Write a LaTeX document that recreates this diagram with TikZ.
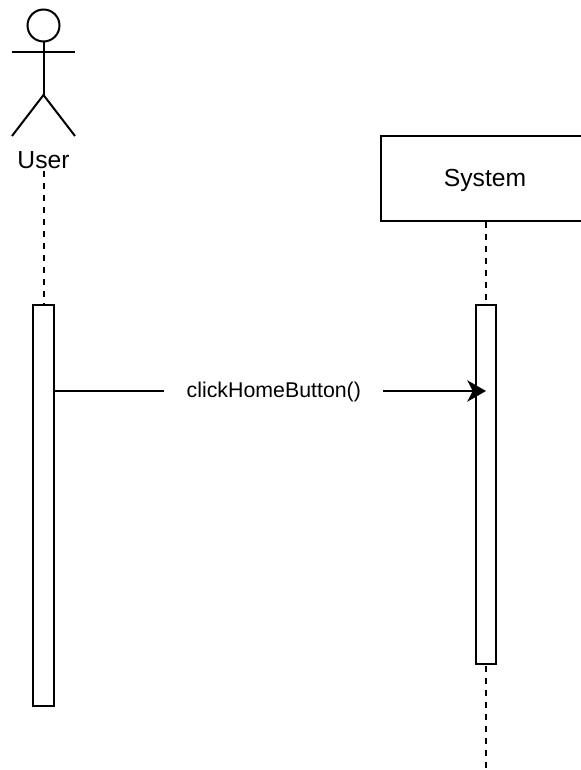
\documentclass[tikz,border=0pt]{standalone}
\usepackage{fontspec}
\setmainfont{Liberation Sans}
\usetikzlibrary{arrows.meta}
\newlength{\unit}
\setlength{\unit}{0.75pt}
\tikzset{
	lifebar/.style={draw,fill=white,line width=1.5pt,minimum width=20.5\unit,inner sep=0pt},
	lifeline/.style={line width=1.5pt,dash pattern=on 4.5pt off 4.5pt},
}
\begin{document}
\begin{tikzpicture}[x=0.75pt,y=-0.75pt,>={Stealth[length=14pt,width=16pt,inset=4pt]}]
	\useasboundingbox (0,0) rectangle (581,770);

	% draw the actor
	\draw[line width=1.5pt] (43.5,25.5) circle(16);
	\coordinate (hip) at (43.5,95);
	\draw[line width=1.5pt] (43.5,41.5) -- (hip);
	\draw[line width=1.5pt] (12,52) -- (75,52);
	\draw[line width=1.5pt] (12,136) -- (hip) -- (75,136);
	\node[inner sep=0pt,font=\fontsize{18.5}{22}\selectfont] (user) at (43.5,160) {User};

	% draw the system box
	\node[draw,line width=1.5pt,minimum width=210\unit,minimum height=85\unit,inner sep=0pt] (system) at (486,178.5) {};
	\node[inner sep=0pt,font=\fontsize{18.5}{22}\selectfont] (systemlabel) at (485,180) {System};

	% draw the lifelines
	\coordinate (userend) at (43.5,305);
	\coordinate (systemend) at (486,770);
	\draw[lifeline] (43.5,171) -- (userend);
	\draw[lifeline] (system.south) -- (systemend);

	% draw the activation bars
	\node[lifebar,minimum height=401\unit] (userbar) at (43.5,505.5) {};
	\node[lifebar,minimum height=359\unit] (systembar) at (486,484.5) {};

	% draw the message
	\draw[->,line width=1.5pt] (userbar.east |- 0,391) -- (systembar.center |- 0,391)
		node[pos=0.508,yshift=-0.75pt,fill=white,minimum width=219\unit,inner sep=4pt,font=\fontsize{16}{19}\selectfont] (click) {clickHomeButton()};
\end{tikzpicture}
\end{document}
